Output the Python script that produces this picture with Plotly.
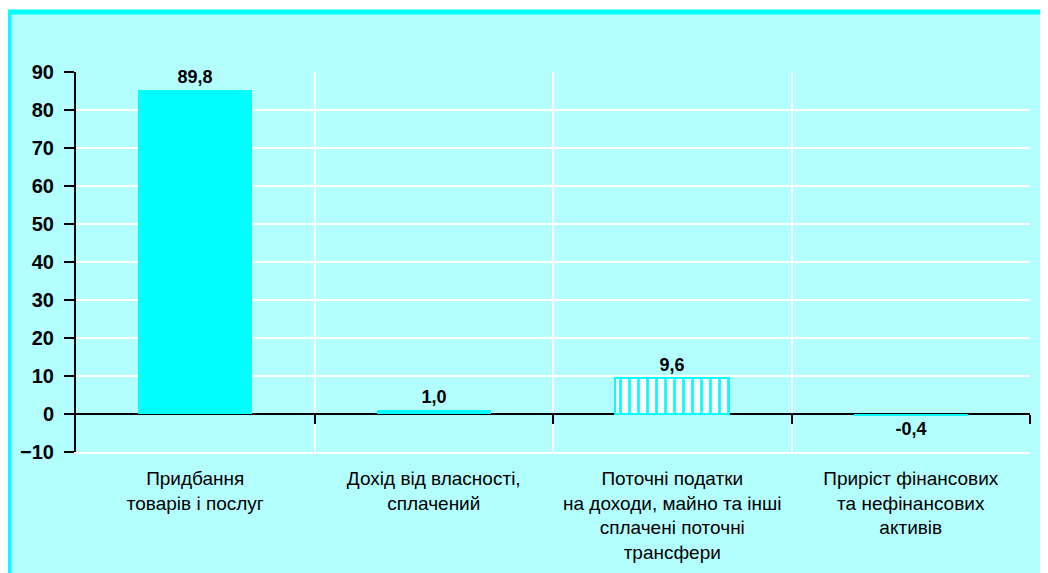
import plotly.graph_objects as go

categories = [
    "Придбання<br>товарів і послуг",
    "Дохід від власності,<br>сплачений",
    "Поточні податки<br>на доходи, майно та інші<br>сплачені поточні<br>трансфери",
    "Приріст фінансових<br>та нефінансових<br>активів",
]
values = [85.3, 1.0, 9.6, -0.4]
value_labels = ["89,8", "1,0", "9,6", "-0,4"]
hatched = [False, False, True, False]
y_ticks = [-10, 0, 10, 20, 30, 40, 50, 60, 70, 80, 90]

# the page body adds an 8px offset; work in page pixels
OFF = 8
W, H = 1048, 573
L, R, T, B = 76 - OFF, 26, 72 - OFF, 129
pw, ph = W - L - R, H - T - B

def px_x(p):
    return (p - OFF - L) / pw

def px_y(p):
    return (H - B - (p - OFF)) / ph

xpos = list(range(len(categories)))
bounds = [i + 0.5 for i in xpos]

CYAN = "#00FFFF"
BG = "#B3FFFF"
FONT = "Arial, Liberation Sans, sans-serif"
label_font = dict(family=FONT, size=18, color="black", weight="bold")

solid_idx = [i for i, h in enumerate(hatched) if not h]
hatch_idx = [i for i, h in enumerate(hatched) if h]

fig = go.Figure()
fig.add_trace(go.Bar(
    x=[xpos[i] for i in solid_idx], y=[values[i] for i in solid_idx], width=0.48,
    text=[value_labels[i] for i in solid_idx], textposition="outside", cliponaxis=False,
    textfont=label_font,
    marker=dict(color=CYAN, line=dict(width=0)),
    showlegend=False, hoverinfo="skip",
))
fig.add_trace(go.Bar(
    x=[xpos[i] for i in hatch_idx], y=[values[i] for i in hatch_idx], width=0.48,
    text=[value_labels[i] for i in hatch_idx], textposition="outside", cliponaxis=False,
    textfont=label_font,
    marker=dict(color="white", line=dict(color=CYAN, width=2),
                pattern=dict(shape="|", fgcolor=CYAN, bgcolor="white", fillmode="replace",
                             fgopacity=1, size=9, solidity=0.3)),
    showlegend=False, hoverinfo="skip",
))
# invisible trace to drive the tick axis on the zero line
fig.add_trace(go.Scatter(x=bounds, y=[0] * len(bounds), xaxis="x2", mode="markers",
                         marker=dict(opacity=0), showlegend=False, hoverinfo="skip"))

fig.update_layout(
    width=W, height=H,
    margin=dict(l=L, r=R, t=T, b=B),
    paper_bgcolor="white", plot_bgcolor=BG,
    font=dict(family=FONT, color="black"),
    barmode="overlay", bargap=0,
    xaxis=dict(
        range=[-0.5, len(categories) - 0.5],
        tickvals=xpos, ticktext=categories,
        tickfont=dict(family=FONT, size=19, color="black"),
        showgrid=False, zeroline=False, showline=True, linecolor="white", linewidth=2,
        ticks="", ticklabelstandoff=8,
        minor=dict(tick0=0.5, dtick=1, showgrid=True, gridcolor="white", gridwidth=2, ticks=""),
        fixedrange=True,
    ),
    xaxis2=dict(
        overlaying="x", anchor="free", position=0.1,
        range=[-0.5, len(categories) - 0.5],
        tickvals=bounds, ticks="outside", ticklen=9, tickwidth=2, tickcolor="black",
        showticklabels=False, showgrid=False, zeroline=False, showline=False,
    ),
    yaxis=dict(
        range=[-10, 90], tickvals=y_ticks,
        tickfont=dict(family=FONT, size=20, color="black", weight="bold"),
        ticks="outside", ticklen=10, tickwidth=2, tickcolor="black",
        showline=True, linecolor="black", linewidth=2,
        showgrid=True, gridcolor="white", gridwidth=2,
        zeroline=True, zerolinecolor="black", zerolinewidth=2,
        ticklabelstandoff=6,
    ),
    shapes=[
        dict(type="rect", xref="paper", yref="paper", layer="below",
             x0=px_x(9), x1=px_x(1070), y0=px_y(12), y1=px_y(600),
             fillcolor=BG, line=dict(color=CYAN, width=5)),
    ],
)

fig.write_html("out.html")
